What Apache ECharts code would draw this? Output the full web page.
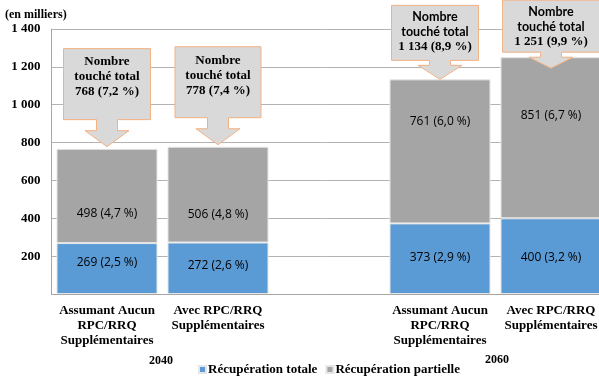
<!DOCTYPE html>
<html>
<head>
<meta charset="utf-8">
<script src="https://cdn.jsdelivr.net/npm/echarts@6/dist/echarts.min.js"></script>
<style>
  html, body { margin: 0; padding: 0; background: #fff; }
  #main { width: 599px; height: 376px; }
</style>
</head>
<body>
<div id="main"></div>
<script>
// catégories (la 3e est vide pour faire l'écart entre 2040 et 2060)
const categories = [
  'Assumant Aucun\nRPC/RRQ\nSupplémentaires',
  'Avec RPC/RRQ\nSupplémentaires',
  '',
  'Assumant Aucun\nRPC/RRQ\nSupplémentaires',
  'Avec RPC/RRQ\nSupplémentaires'
];
const recupTotale = [269, 272, null, 373, 400];
const recupPartielle = [498, 506, null, 761, 851];
const labelsTotale = ['269 (2,5 %)', '272 (2,6 %)', '', '373 (2,9 %)', '400 (3,2 %)'];
const labelsPartielle = ['498 (4,7 %)', '506 (4,8 %)', '', '761 (6,0 %)', '851 (6,7 %)'];
const totaux = [768, 778, null, 1134, 1251];
const labelsTotaux = ['768 (7,2 %)', '778 (7,4 %)', '', '1 134 (8,9 %)', '1 251 (9,9 %)'];
const annees = ['2040', '2060'];
const seriesNames = ['Récupération totale', 'Récupération partielle'];

const serif = '"Liberation Serif", "DejaVu Serif", serif';
const sans = '"Open Sans", "Noto Sans", sans-serif';

// décalages verticaux des étiquettes (comme placées à la main dans Excel)
const decalTotale = [-6, -3, 0, -1, 1];
const decalPartielle = [18, 20, 0, -30, -22];

// forme des bulles (px) : hauteur boite, tige, tête, décalage pointe, décalage x, largeur
const bulles = [
  { h: 71, stem: 11, head: 16, dy: -2, dx: 0, w: 87, serifOnly: true },
  { h: 71, stem: 11, head: 16, dy: -2, dx: 0, w: 86, serifOnly: true },
  null,
  { h: 55, stem: 5, head: 14, dy: 0, dx: -5, w: 87, serifOnly: false },
  { h: 52, stem: 5, head: 11, dy: 11, dx: 0, w: 97, serifOnly: false }
];

function fmtMilliers(v) {
  return String(v).replace(/\B(?=(\d{3})+(?!\d))/g, ' ');
}

function renderBulle(params, api) {
  const i = api.value(0);
  const b = bulles[i];
  if (!b) return;
  const p = api.coord([i, api.value(1)]);
  const tipX = p[0];
  const tipY = p[1] + b.dy;
  const headTop = tipY - b.head;
  const boxBottom = headTop - b.stem;
  const boxTop = boxBottom - b.h;
  const cx = tipX + b.dx;
  const left = cx - b.w / 2, right = cx + b.w / 2;
  const pts = [
    [left, boxTop], [right, boxTop], [right, boxBottom],
    [tipX + 10.5, boxBottom], [tipX + 10.5, headTop], [tipX + 22, headTop],
    [tipX, tipY],
    [tipX - 22, headTop], [tipX - 10.5, headTop], [tipX - 10.5, boxBottom],
    [left, boxBottom]
  ];
  const top = b.serifOnly ? 'a' : 'b';
  return {
    type: 'group',
    children: [
      {
        type: 'polygon',
        shape: { points: pts },
        style: { fill: '#D9D9D9', stroke: '#F4B183', lineWidth: 1 }
      },
      {
        type: 'text',
        x: cx,
        y: boxTop + (b.serifOnly ? 6 : 4),
        style: {
          text: '{' + top + '|Nombre}\n{' + top + '|touché total}\n{a|' + labelsTotaux[i] + '}',
          align: 'center',
          verticalAlign: 'top',
          rich: {
            a: { fontFamily: serif, fontWeight: 'bold', fontSize: 13, lineHeight: 15, fill: '#000' },
            b: { fontFamily: 'Lato, sans-serif', fontWeight: 'bold', fontSize: 12.5, lineHeight: 15, fill: '#000' }
          }
        }
      }
    ]
  };
}

const barLabel = {
  show: true,
  position: 'inside',
  fontFamily: sans,
  fontSize: 12,
  color: '#000'
};

const chart = echarts.init(document.getElementById('main'));
chart.setOption({
  animation: false,
  title: {
    text: '(en milliers)',
    left: 0,
    top: 4,
    textStyle: { fontFamily: serif, fontWeight: 'bold', fontSize: 12, color: '#000' }
  },
  legend: {
    data: seriesNames,
    left: 193,
    top: 358,
    itemWidth: 7,
    itemHeight: 7,
    itemGap: 8,
    icon: 'rect',
    textStyle: { fontFamily: serif, fontWeight: 'bold', fontSize: 13, color: '#000', padding: [0, 0, 0, -3] }
  },
  grid: { left: 51.5, width: 555, top: 29, bottom: 82, outerBoundsMode: 'none', containLabel: false },
  xAxis: {
    type: 'category',
    data: categories,
    axisLine: { lineStyle: { color: '#A6A6A6' } },
    axisTick: { show: false },
    axisLabel: {
      interval: 0,
      margin: 9,
      fontFamily: serif,
      fontWeight: 'bold',
      fontSize: 13,
      lineHeight: 15,
      color: '#000'
    }
  },
  yAxis: {
    type: 'value',
    min: 0,
    max: 1400,
    interval: 200,
    axisLine: { show: true, lineStyle: { color: '#A6A6A6' } },
    axisTick: { show: false },
    splitLine: { lineStyle: { color: '#B3B3B3' } },
    axisLabel: {
      margin: 11,
      fontFamily: serif,
      fontWeight: 'bold',
      fontSize: 13,
      color: '#000',
      formatter: v => v === 0 ? '' : fmtMilliers(v)
    }
  },
  graphic: [
    { type: 'text', left: 149, top: 355, style: { text: annees[0], font: 'bold 12px ' + serif, fill: '#000' } },
    { type: 'text', left: 485, top: 354, style: { text: annees[1], font: 'bold 12px ' + serif, fill: '#000' } }
  ],
  series: [
    {
      name: seriesNames[0],
      type: 'bar',
      stack: 'tot',
      barCategoryGap: '9%',
      data: recupTotale.map((v, i) => ({
        value: v,
        label: Object.assign({}, barLabel, { formatter: labelsTotale[i], offset: [0, decalTotale[i]] })
      })),
      itemStyle: { color: '#5B9BD5', borderColor: '#E6E6E6', borderWidth: 1 }
    },
    {
      name: seriesNames[1],
      type: 'bar',
      stack: 'tot',
      data: recupPartielle.map((v, i) => ({
        value: v,
        label: Object.assign({}, barLabel, { formatter: labelsPartielle[i], offset: [0, decalPartielle[i]] })
      })),
      itemStyle: { color: '#A5A5A5', borderColor: '#E6E6E6', borderWidth: 1 }
    },
    {
      type: 'custom',
      renderItem: renderBulle,
      data: totaux.map((t, i) => [i, t]),
      clip: false,
      silent: true,
      z: 5
    }
  ]
});
</script>
</body>
</html>
